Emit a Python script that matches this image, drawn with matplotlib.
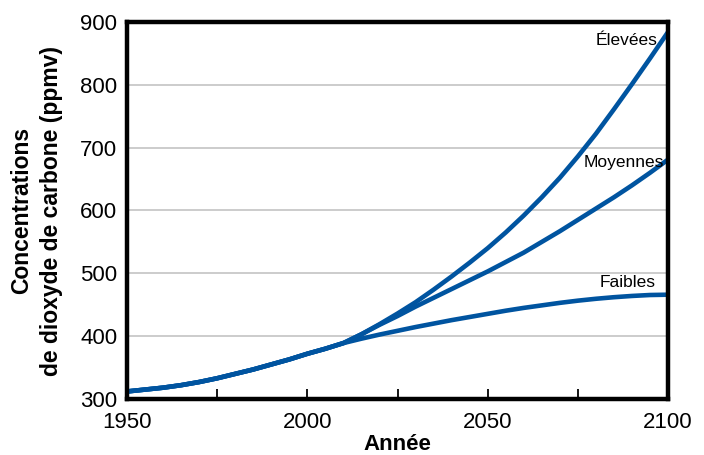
import numpy as np
import matplotlib.pyplot as plt

plt.rcParams['font.family'] = ['Liberation Sans', 'DejaVu Sans']

# --- data (ppmv), every 5 years ---
years = [1950, 1955, 1960, 1965, 1970, 1975, 1980, 1985, 1990, 1995,
         2000, 2005, 2010, 2015, 2020, 2025, 2030, 2035, 2040, 2045,
         2050, 2055, 2060, 2065, 2070, 2075, 2080, 2085, 2090, 2095, 2100]
elevees = [312, 315, 318, 322, 327, 333, 340, 347, 355, 363,
           372, 380, 389, 403, 419, 436, 454, 474, 495, 517,
           540, 565, 592, 621, 652, 686, 722, 761, 801, 842, 884]
moyennes = [312, 315, 318, 322, 327, 333, 340, 347, 355, 363,
            372, 380, 389, 403, 418, 432, 447, 461, 475, 489,
            503, 518, 533, 550, 567, 585, 603, 621, 640, 660, 681]
faibles = [312, 315, 318, 322, 327, 333, 340, 347, 355, 363,
           372, 380, 389, 396, 402.5, 408.5, 414.5, 420, 425.5, 430.5,
           435.5, 440.5, 445, 449, 453, 456.5, 459.5, 462, 464, 465.5, 466]
series_names = ['Élevées', 'Moyennes', 'Faibles']
label_pos = [(2097, 870), (2099, 677), (2096.6, 485)]

blue = '#0054a0'

fig = plt.figure(figsize=(7.04, 4.55), dpi=100)
ax = fig.add_axes([127/704, 1-399/455, 541/704, 377/455])

for vals in (elevees, moyennes, faibles):
    ax.plot(years, vals, color=blue, lw=3.3, solid_capstyle='butt',
            solid_joinstyle='round', zorder=3)

for name, (lx, ly) in zip(series_names, label_pos):
    ax.text(lx, ly, name, ha='right', va='center', fontsize=12.5, zorder=4)

ax.set_xlim(1950, 2100)
ax.set_ylim(300, 900)
ax.set_xticks([1950, 2000, 2050, 2100])
ax.set_xticks([1975, 2025, 2075], minor=True)
ax.set_yticks([300, 400, 500, 600, 700, 800, 900])
ax.tick_params(axis='x', which='both', direction='in', length=7, width=1.3,
               labelsize=16, pad=9)
ax.tick_params(axis='y', length=0, labelsize=16, pad=7)

for y in [400, 500, 600, 700, 800]:
    ax.axhline(y, color='#c8c8c8', lw=1.3, zorder=1)

for s in ax.spines.values():
    s.set_linewidth(3.2)
    s.set_zorder(5)

ax.set_xlabel('Année', fontsize=16, fontweight='bold', labelpad=1)
ax.set_ylabel('Concentrations\nde dioxyde de carbone (ppmv)', fontsize=16.5,
              fontweight='bold', linespacing=1.4, labelpad=12)

fig.savefig('out.png', dpi=100)
